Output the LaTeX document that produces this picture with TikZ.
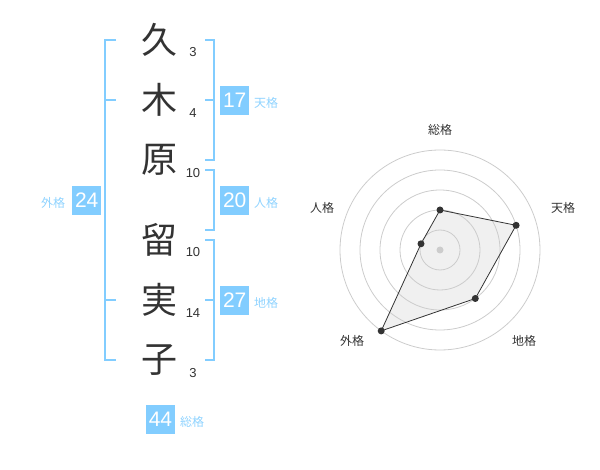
\documentclass[tikz,border=0pt]{standalone}
\usepackage{fontspec}
\setmainfont{Liberation Sans}
\newfontfamily\jp{Noto Sans CJK JP}
\definecolor{bl}{HTML}{82CDFF}
\definecolor{bltxt}{HTML}{8FD3FF}
\definecolor{ink}{HTML}{333333}
\definecolor{ring}{HTML}{CCCCCC}
\definecolor{polyfill}{HTML}{F0F0F0}
\begin{document}
\begin{tikzpicture}[x=1pt,y=-1pt,
  kanji/.style={inner sep=0pt, text=ink, font=\jp\fontsize{36}{36}\selectfont},
  strokenum/.style={inner sep=0pt, text=ink, font=\fontsize{13}{13}\selectfont},
  badge/.style={fill=bl, text=white, minimum width=29pt, minimum height=29pt, inner sep=0pt, font=\fontsize{21}{21}\selectfont},
  blabel/.style={inner sep=0pt, text=bltxt, font=\jp\fontsize{12}{12}\selectfont},
  br/.style={draw=bl, line width=2pt},
  rlabel/.style={inner sep=0pt, text=ink, font=\jp\fontsize{12}{12}\selectfont},
  ringc/.style={draw=ring, line width=0.8pt},
  dot/.style={circle, fill=ink, inner sep=0pt, minimum size=7pt}]
\useasboundingbox (0,0) rectangle (600,470);

% kanji
\node[kanji] (k1) at (159,40) {久};
\node[kanji] (k2) at (159,100) {木};
\node[kanji] (k3) at (159,160) {原};
\node[kanji] (k4) at (159,240) {留};
\node[kanji] (k5) at (159,300) {実};
\node[kanji] (k6) at (159,360) {子};
% strokes
\node[strokenum] (s1) at (193,52) {3};
\node[strokenum] (s2) at (193,113) {4};
\node[strokenum] (s3) at (193,173) {10};
\node[strokenum] (s4) at (193,252) {10};
\node[strokenum] (s5) at (193,313) {14};
\node[strokenum] (s6) at (193,373) {3};

% brackets
\draw[br] (116,40) -- (105,40) -- (105,360) -- (116,360);
\draw[br] (105,100) -- (116,100);
\draw[br] (105,300) -- (116,300);
\draw[br] (205,40) -- (214,40) -- (214,160) -- (205,160);
\draw[br] (205,100) -- (214,100);
\draw[br] (205,170) -- (214,170) -- (214,230) -- (205,230);
\draw[br] (205,240) -- (214,240) -- (214,360) -- (205,360);
\draw[br] (205,300) -- (214,300);

% badges
\node[badge] (b17) at (234.7,100.5) {17};
\node[badge] (b20) at (234.7,200.5) {20};
\node[badge] (b27) at (234.7,300.5) {27};
\node[badge] (b24) at (86.7,200.5) {24};
\node[badge] (b44) at (160.5,419.5) {44};
\node[blabel] (l17) at (266,103) {天格};
\node[blabel] (l20) at (266,203) {人格};
\node[blabel] (l27) at (266,303) {地格};
\node[blabel] (l24) at (53,203) {外格};
\node[blabel] (l44) at (192,422) {総格};

% radar
\coordinate (C) at (440,250);
\coordinate (pS) at (440,210);
\coordinate (pT) at (516.1,225.3);
\coordinate (pC) at (475.3,298.5);
\coordinate (pG) at (381.2,330.9);
\coordinate (pJ) at (421,243.8);
\fill[polyfill] (pS) -- (pT) -- (pC) -- (pG) -- (pJ) -- cycle;
\foreach \r in {20,40,60,80,100} \draw[ringc] (C) circle[radius=\r];
\node[circle, fill=ring, inner sep=0pt, minimum size=7pt] (cdot) at (C) {};
\draw[ink, line width=0.8pt] (pS) -- (pT) -- (pC) -- (pG) -- (pJ) -- cycle;
\node[dot] (dS) at (pS) {};
\node[dot] (dT) at (pT) {};
\node[dot] (dC) at (pC) {};
\node[dot] (dG) at (pG) {};
\node[dot] (dJ) at (pJ) {};
\node[rlabel] (rS) at (440,130) {総格};
\node[rlabel] (rT) at (563,208) {天格};
\node[rlabel] (rC) at (524,341) {地格};
\node[rlabel] (rG) at (352,341) {外格};
\node[rlabel] (rJ) at (322,208) {人格};
\end{tikzpicture}
\end{document}
